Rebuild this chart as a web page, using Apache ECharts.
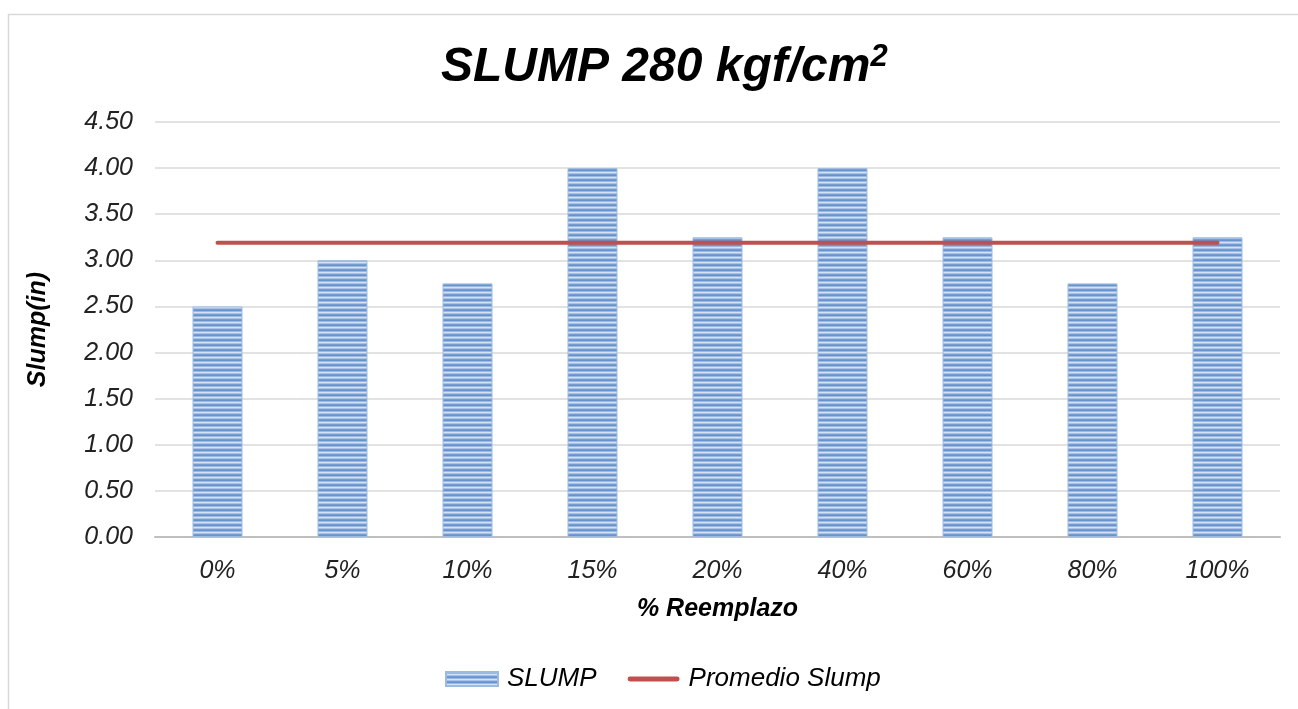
<!DOCTYPE html>
<html><head><meta charset="utf-8">
<script src="https://cdn.jsdelivr.net/npm/echarts@6/dist/echarts.min.js"></script>
<style>html,body{margin:0;padding:0;background:#fff}#c{width:1298px;height:709px}</style>
</head><body><div id="c"></div>
<script>
const categories = ['0%','5%','10%','15%','20%','40%','60%','80%','100%'];
const slump = [2.50,3.00,2.75,4.00,3.25,4.00,3.25,2.75,3.25];
const promedio = [3.19,3.19,3.19,3.19,3.19,3.19,3.19,3.19,3.19];
const yTicks = ['0.00','0.50','1.00','1.50','2.00','2.50','3.00','3.50','4.00','4.50'];

function stripe(){
  const cv=document.createElement('canvas'); cv.width=4; cv.height=5;
  const g=cv.getContext('2d');
  const rows=['#6892cb','#9bb9e1','#d5e2f4','#a7c2e6','#759dd1'];
  rows.forEach((c,i)=>{g.fillStyle=c;g.fillRect(0,i,4,1);});
  return cv;
}
const pat={image:stripe(),repeat:'repeat'};
const F='Liberation Sans, Arial, sans-serif';
const chart=echarts.init(document.getElementById('c'));
chart.setOption({
  animation:false,
  graphic:[{type:'rect',shape:{x:8.5,y:14.5,width:1300,height:700},style:{fill:'none',stroke:'#d9d9d9',lineWidth:1.5},z:-1}],
  title:{text:'{t|SLUMP 280 kgf/cm}{s|2}',left:436,top:37,
    textStyle:{rich:{t:{fontFamily:F,fontSize:48,fontWeight:'bold',fontStyle:'italic',color:'#000'},
      s:{fontFamily:F,fontSize:31,fontWeight:'bold',fontStyle:'italic',color:'#000',verticalAlign:'top',padding:[0,0,20,0]}}}},
  legend:{bottom:12,left:440,itemGap:31,itemWidth:52,itemHeight:14,
    textStyle:{fontFamily:F,fontSize:26,fontStyle:'italic',color:'#000',padding:[0,0,0,4]},
    data:[{name:'SLUMP',icon:'rect',itemStyle:{color:pat}},{name:'Promedio Slump',icon:'path://M2,0 L50,0 A2.5,2.5 0 0 1 50,5 L2,5 A2.5,2.5 0 0 1 2,0 Z',itemStyle:{color:'#c0504d'}}]},
  grid:{left:155,right:18,top:122,bottom:172,containLabel:false},
  xAxis:{type:'category',data:categories,
    axisLine:{lineStyle:{color:'#bfbfbf',width:2}},axisTick:{show:false},
    axisLabel:{fontFamily:F,fontSize:25,fontStyle:'italic',color:'#222',margin:22},
    name:'% Reemplazo',nameLocation:'middle',nameGap:60,
    nameTextStyle:{fontFamily:F,fontSize:25,fontWeight:'bold',fontStyle:'italic',color:'#000'}},
  yAxis:{type:'value',min:0,max:4.5,interval:0.5,
    axisLine:{show:false},axisTick:{show:false},
    splitLine:{lineStyle:{color:'#d9d9d9',width:1.5}},
    axisLabel:{fontFamily:F,fontSize:25,fontStyle:'italic',color:'#222',margin:22,
      formatter:(v)=>yTicks[Math.round(v/0.5)]},
    name:'Slump(in)',nameLocation:'middle',nameGap:104,nameRotate:90,
    nameTextStyle:{fontFamily:F,fontSize:25,fontWeight:'bold',fontStyle:'italic',color:'#000'}},
  series:[
    {name:'SLUMP',type:'bar',data:slump,barWidth:'40%',
      itemStyle:{color:pat,borderColor:'#9dbbe2',borderWidth:1}},
    {name:'Promedio Slump',type:'line',data:promedio,symbol:'none',
      lineStyle:{color:'#c0504d',width:4,cap:'round'},z:5}
  ]
});
</script></body></html>
